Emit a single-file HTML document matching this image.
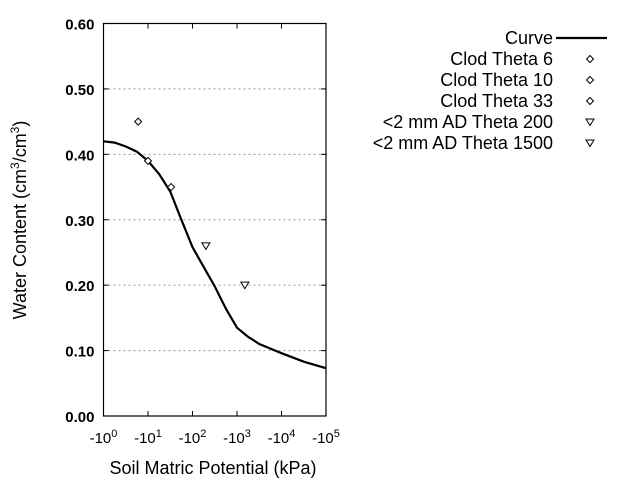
<!DOCTYPE html>
<html><head><meta charset="utf-8"><style>
html,body{margin:0;padding:0;background:#fff;}
svg{display:block;font-family:"Liberation Sans",sans-serif;}
</style></head><body>
<svg id="chart" width="640" height="480" viewBox="0 0 640 480">
<g id="grid"></g>
<g id="yticks"></g>
<g id="xticks"></g>
<path id="curve" fill="none" stroke="#000" stroke-width="2.2"/>
<g id="points"></g>
<rect x="103.5" y="23.5" width="222.5" height="392.5" fill="none" stroke="#000" stroke-width="1.2"/>
<text x="213" y="474" font-size="18" text-anchor="middle">Soil Matric Potential (kPa)</text>
<text transform="translate(26,220) rotate(-90)" font-size="18" text-anchor="middle">Water Content (cm<tspan baseline-shift="super" font-size="12">3</tspan>/cm<tspan baseline-shift="super" font-size="12">3</tspan>)</text>
<g id="legend"></g>
</svg>
<script>
const yTicks=[0,0.1,0.2,0.3,0.4,0.5,0.6];
const xTickExps=[0,1,2,3,4,5];
const curveLogH=[0,0.25,0.5,0.75,1,1.25,1.5,1.75,2,2.25,2.5,2.75,3,3.25,3.5,3.75,4,4.5,5];
const curveTheta=[0.42,0.418,0.412,0.404,0.39,0.37,0.343,0.30,0.258,0.228,0.198,0.164,0.135,0.121,0.11,0.103,0.096,0.083,0.073];
const pointLabels=["Clod Theta 6","Clod Theta 10","Clod Theta 33","<2 mm AD Theta 200","<2 mm AD Theta 1500"];
const pointH=[6,10,33,200,1500];
const pointTheta=[0.45,0.39,0.35,0.26,0.20];
const pointShape=["diamond","diamond","diamond","tri","tri"];
const NS="http://www.w3.org/2000/svg";
const X0=103.5,X1=326,Y0=416,Y1=23.5;
const xs=l=>X0+(X1-X0)*l/5;
const ys=v=>Y0-(Y0-Y1)*v/0.6;
function mk(t,a,p){const e=document.createElementNS(NS,t);for(const k in a)e.setAttribute(k,a[k]);p.appendChild(e);return e;}
const grid=document.getElementById('grid'),yt=document.getElementById('yticks'),xt=document.getElementById('xticks');
yTicks.forEach(v=>{const y=ys(v);
 if(v>0&&v<0.6){const g=mk('line',{x1:X0,x2:X1,y1:y,y2:y,stroke:'#999','stroke-dasharray':'2,3'},grid);
 
 }
 mk('line',{x1:X0,x2:X0+5,y1:y,y2:y,stroke:'#000'},yt);mk('line',{x1:X1-5,x2:X1,y1:y,y2:y,stroke:'#000'},yt);
 const t=mk('text',{x:X0-9,y:y+6,'font-size':15,'text-anchor':'end','font-weight':'bold'},yt);t.textContent=v.toFixed(2);
 
 });
xTickExps.forEach(e=>{const x=xs(e);
 mk('line',{x1:x,x2:x,y1:Y0,y2:Y0-5,stroke:'#000'},xt);mk('line',{x1:x,x2:x,y1:Y1,y2:Y1+5,stroke:'#000'},xt);
 const t=mk('text',{x:x,y:443,'font-size':15,'text-anchor':'middle'},xt);
 t.innerHTML='-10<tspan dy="-6" font-size="11">'+e+'</tspan>';
 
 });
document.getElementById('curve').setAttribute('d',curveLogH.map((l,i)=>(i?'L':'M')+xs(l).toFixed(1)+','+ys(curveTheta[i]).toFixed(1)).join(''));
const pts=document.getElementById('points');
function marker(shape,x,y,p){
 if(shape==='diamond')return mk('path',{d:`M${x},${y-3.5}L${x+3.5},${y}L${x},${y+3.5}L${x-3.5},${y}Z`,fill:'#fff',stroke:'#000','stroke-width':1},p);
 return mk('path',{d:`M${x-4},${y-3}L${x+4},${y-3}L${x},${y+3.5}Z`,fill:'#fff',stroke:'#000','stroke-width':1},p);}
pointH.forEach((h,i)=>{const m=marker(pointShape[i],xs(Math.log10(h)),ys(pointTheta[i]),pts);
 
 });
const lg=document.getElementById('legend');
const entries=["Curve"].concat(pointLabels);
entries.forEach((lab,i)=>{const y=38+21*i;
 const t=mk('text',{x:553,y:y+6,'font-size':18,'text-anchor':'end'},lg);t.textContent=lab;
 
 
 if(i===0){const l=mk('line',{x1:556,x2:607,y1:y,y2:y,stroke:'#000','stroke-width':2.2},lg);
  
  }
 else{const m=marker(pointShape[i-1],590,y,lg);
  
  }});
</script>
</body></html>
